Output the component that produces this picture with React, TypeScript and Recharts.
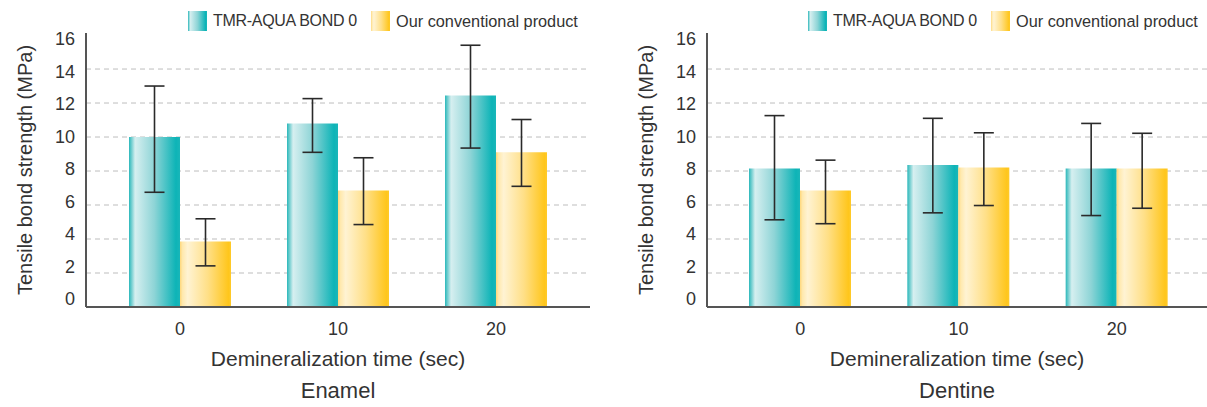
import React from 'react';
import { BarChart, Bar, XAxis, YAxis, CartesianGrid, ErrorBar } from 'recharts';

const categories = ['0', '10', '20'];
const seriesNames = ['TMR-AQUA BOND 0', 'Our conventional product'];
const yTicks = [0, 2, 4, 6, 8, 10, 12, 14, 16];
const gridValues = [2, 4, 6, 8, 10, 12, 14];
const xAxisTitle = 'Demineralization time (sec)';
const yAxisTitle = 'Tensile bond strength (MPa)';

// Enamel
const enamelTmr = [10.0, 10.8, 12.45];
const enamelTmrErrLow = [3.25, 1.7, 3.1];
const enamelTmrErrHigh = [3.0, 1.46, 2.95];
const enamelConv = [3.85, 6.85, 9.1];
const enamelConvErrLow = [1.43, 2.0, 2.0];
const enamelConvErrHigh = [1.34, 1.93, 1.93];

// Dentine
const dentineTmr = [8.15, 8.35, 8.15];
const dentineTmrErrLow = [3.02, 2.81, 2.77];
const dentineTmrErrHigh = [3.11, 2.75, 2.65];
const dentineConv = [6.85, 8.2, 8.15];
const dentineConvErrLow = [1.95, 2.23, 2.34];
const dentineConvErrHigh = [1.79, 2.05, 2.07];

const FONT = '"Liberation Sans", Arial, sans-serif';
const TEXT = '#333333';

const buildData = (tmr: number[], tLo: number[], tHi: number[], conv: number[], cLo: number[], cHi: number[]) =>
  categories.map((c, i) => ({
    cat: c,
    tmr: tmr[i],
    tmrErr: [tLo[i], tHi[i]],
    conv: conv[i],
    convErr: [cLo[i], cHi[i]],
  }));

const YTick = (props: any) => {
  const { x, y, payload } = props;
  const v = payload.value;
  return (
    <text x={x - 11} y={y + 0.75 * v - 8 + 6.3} textAnchor="end" fontSize={18} fill={TEXT} fontFamily={FONT}>
      {v}
    </text>
  );
};

const XTick = (props: any) => {
  const { x, y, payload } = props;
  return (
    <text x={x} y={y + 28} textAnchor="middle" fontSize={18} fill={TEXT} fontFamily={FONT}>
      {payload.value}
    </text>
  );
};

const tealStops = [
  ['0%', '#2ab8bb'],
  ['4%', '#63c9cb'],
  ['12%', '#d6eff0'],
  ['50%', '#8dd4d6'],
  ['92%', '#0db4b7'],
  ['100%', '#1ab6b9'],
];
const yellowStops = [
  ['0%', '#ffd77a'],
  ['5%', '#ffe9ae'],
  ['15%', '#fff3d3'],
  ['55%', '#ffdf86'],
  ['95%', '#ffc61c'],
  ['100%', '#ffca2a'],
];
const cssGrad = (stops: string[][]) => `linear-gradient(to right, ${stops.map((s) => `${s[1]} ${s[0]}`).join(', ')})`;

const Panel = ({ id, data, sub, left, width, marginLeft, padL, padR, legendLeft }: any) => (
  <div style={{ position: 'absolute', left, top: 0, width, height: 407 }}>
    <BarChart
      width={width}
      height={407}
      data={data}
      margin={{ top: 33, right: width === 600 ? 10 : 0, left: marginLeft, bottom: 0 }}
      barGap={0}
      barSize={51}
    >
      <defs>
        <linearGradient id={`${id}-teal`} x1="0" y1="0" x2="1" y2="0">
          {tealStops.map((s) => (
            <stop key={s[0]} offset={s[0]} stopColor={s[1]} />
          ))}
        </linearGradient>
        <linearGradient id={`${id}-yellow`} x1="0" y1="0" x2="1" y2="0">
          {yellowStops.map((s) => (
            <stop key={s[0]} offset={s[0]} stopColor={s[1]} />
          ))}
        </linearGradient>
      </defs>
      <CartesianGrid vertical={false} horizontalValues={gridValues} stroke="#bdbdbd" strokeDasharray="5 4" />
      <XAxis
        dataKey="cat"
        height={100}
        padding={{ left: padL, right: padR }}
        axisLine={{ stroke: '#555', strokeWidth: 2 }}
        tickLine={false}
        tickSize={0}
        tickMargin={0}
        tick={<XTick />}
        label={{
          content: (p: any) => {
            const vb = p.viewBox || { x: 0, y: 307, width: 500 };
            const cx = vb.x + vb.width / 2;
            return (
              <g>
                <text x={cx} y={366} textAnchor="middle" fontSize={21} fill={TEXT} fontFamily={FONT}>
                  {xAxisTitle}
                </text>
                <text x={cx} y={398} textAnchor="middle" fontSize={22} fill={TEXT} fontFamily={FONT}>
                  {sub}
                </text>
              </g>
            );
          },
        }}
      />
      <YAxis
        type="number"
        domain={[0, 16.12]}
        ticks={yTicks}
        width={86}
        axisLine={{ stroke: '#555', strokeWidth: 2 }}
        tickLine={false}
        tickSize={0}
        tickMargin={0}
        tick={<YTick />}
        interval={0}
        label={{
          content: (p: any) => {
            const vb = p.viewBox || { x: 0, y: 33, height: 274 };
            const bx = vb.x + 32;
            const cy = vb.y + vb.height / 2;
            return (
              <text
                x={bx}
                y={cy}
                transform={`rotate(-90 ${bx} ${cy})`}
                textAnchor="middle"
                fontSize={20}
                fill={TEXT}
                fontFamily={FONT}
              >
                {yAxisTitle}
              </text>
            );
          },
        }}
      />
      <Bar dataKey="tmr" name={seriesNames[0]} fill={`url(#${id}-teal)`} isAnimationActive={false}>
        <ErrorBar dataKey="tmrErr" width={10} strokeWidth={1.6} stroke="#2a2a2a" direction="y" />
      </Bar>
      <Bar dataKey="conv" name={seriesNames[1]} fill={`url(#${id}-yellow)`} isAnimationActive={false}>
        <ErrorBar dataKey="convErr" width={10} strokeWidth={1.6} stroke="#2a2a2a" direction="y" />
      </Bar>
    </BarChart>
    <div
      style={{
        position: 'absolute',
        left: legendLeft - left,
        top: 11,
        display: 'flex',
        alignItems: 'center',
        fontFamily: FONT,
        color: TEXT,
        whiteSpace: 'nowrap',
      }}
    >
      {seriesNames.map((n, i) => (
        <div key={n} style={{ display: 'flex', alignItems: 'center', marginRight: i === 0 ? 14 : 0 }}>
          <div style={{ width: 19, height: 20, background: cssGrad(i === 0 ? tealStops : yellowStops), marginRight: 6 }} />
          <span
            style={{
              lineHeight: '20px',
              fontSize: i === 0 ? 16 : 16.3,
              letterSpacing: i === 0 ? '-0.3px' : '0px',
            }}
          >
            {n}
          </span>
        </div>
      ))}
    </div>
  </div>
);

export default function App() {
  const enamel = buildData(enamelTmr, enamelTmrErrLow, enamelTmrErrHigh, enamelConv, enamelConvErrLow, enamelConvErrHigh);
  const dentine = buildData(dentineTmr, dentineTmrErrLow, dentineTmrErrHigh, dentineConv, dentineConvErrLow, dentineConvErrHigh);
  return (
    <div
      style={{
        position: 'absolute',
        left: 0,
        top: 0,
        width: 1207,
        height: 407,
        background: '#fff',
        overflow: 'hidden',
        fontFamily: FONT,
      }}
    >
      <Panel id="enamel" data={enamel} sub="Enamel" left={0} width={600} marginLeft={0} padL={15} padR={15} legendLeft={188} />
      <Panel id="dentine" data={dentine} sub="Dentine" left={600} width={607} marginLeft={21} padL={14} padR={11} legendLeft={808} />
    </div>
  );
}
